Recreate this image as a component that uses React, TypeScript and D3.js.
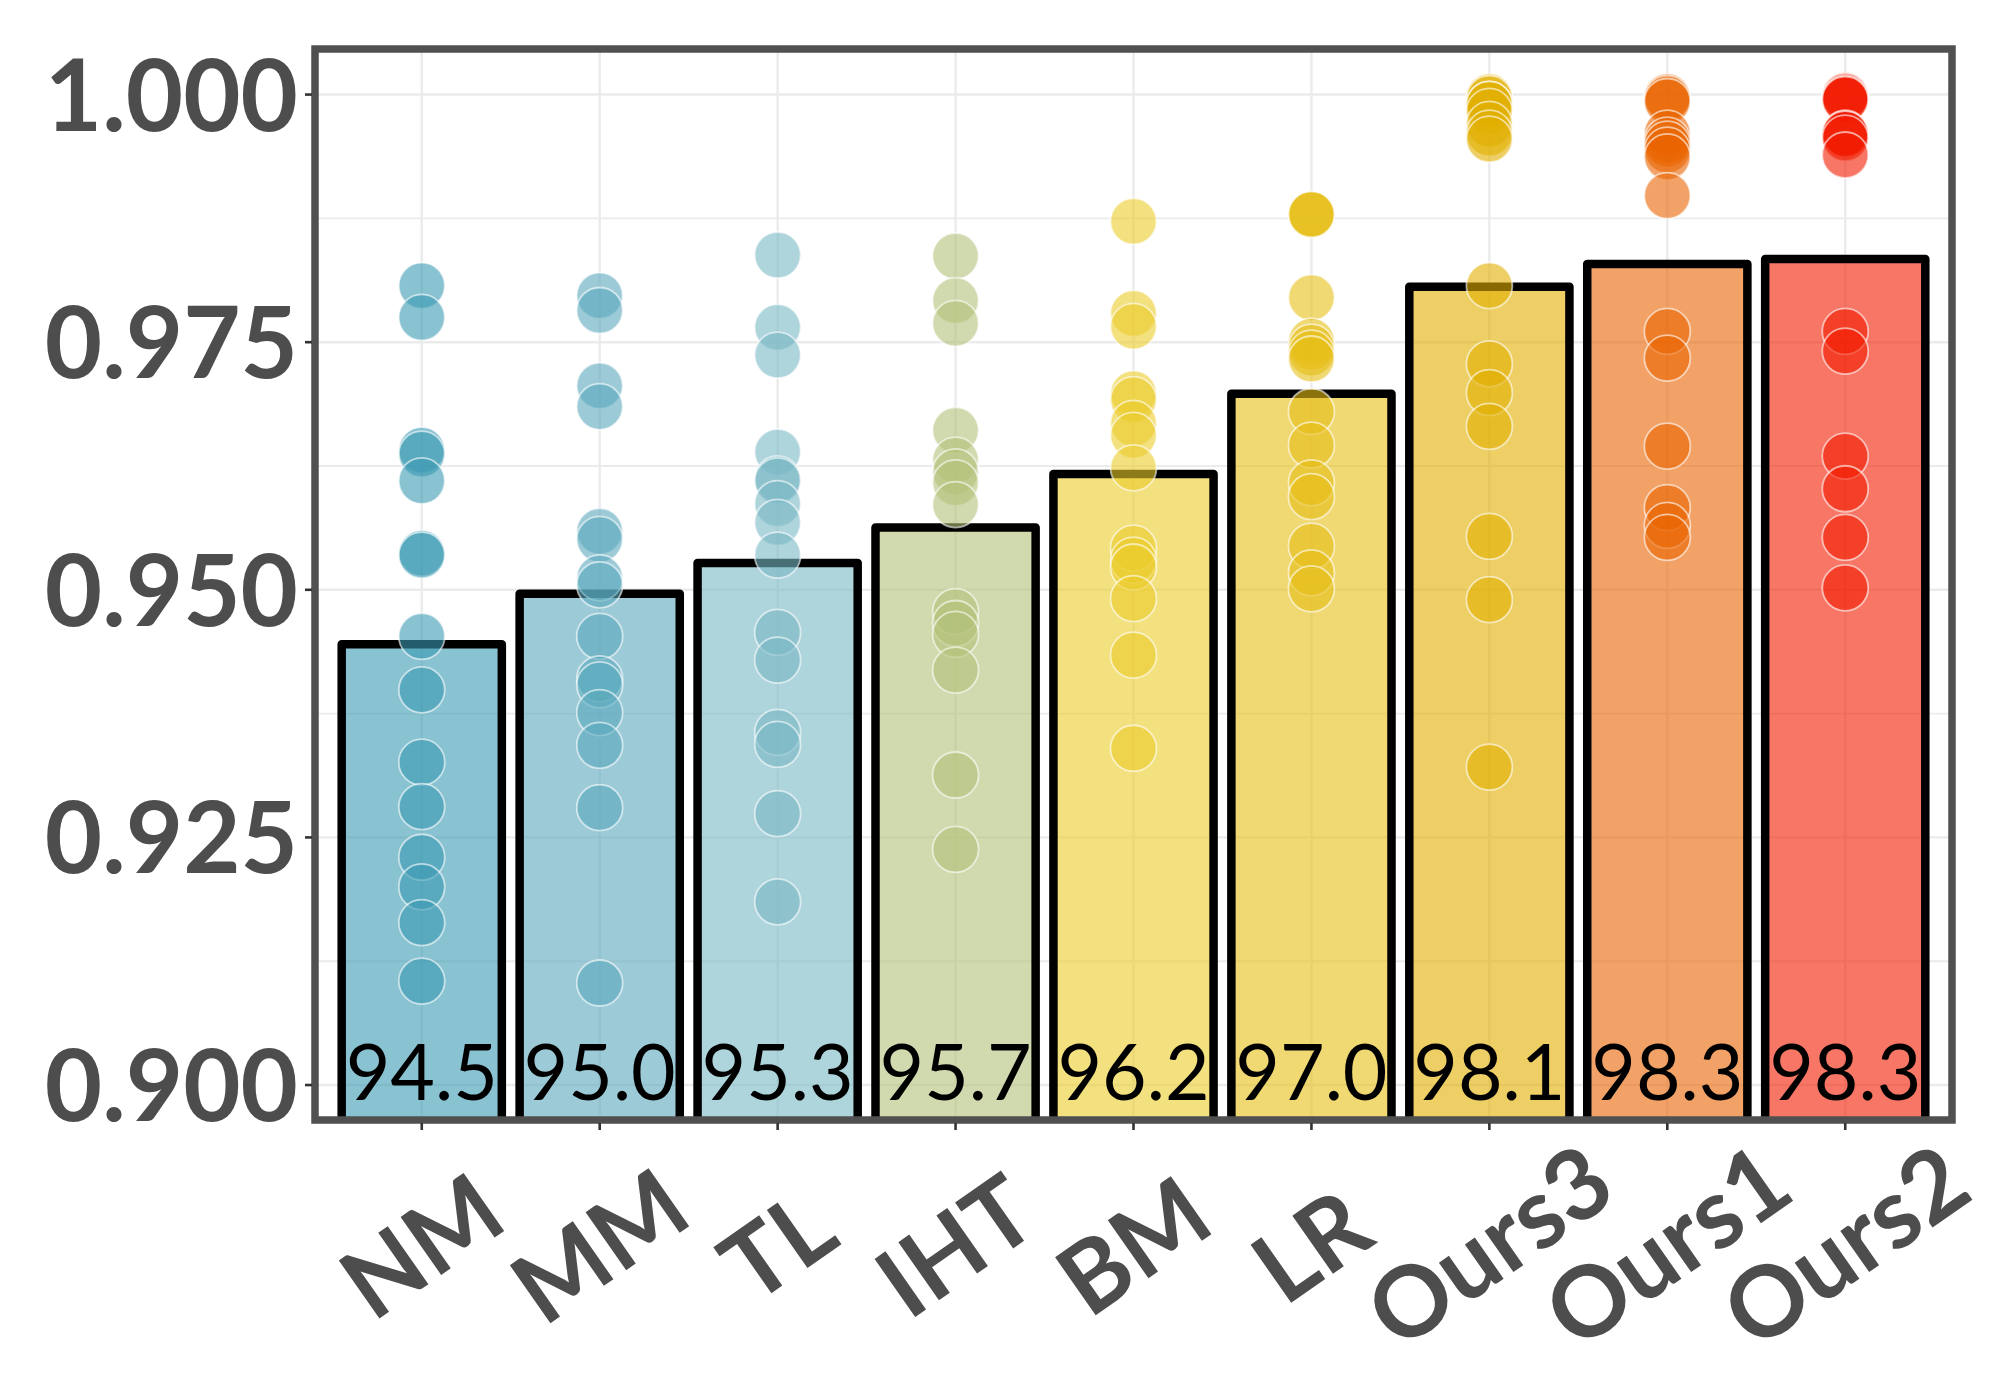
import { useRef, useEffect } from "react";
import * as d3 from "d3";

const categories = ["NM", "MM", "TL", "IHT", "BM", "LR", "Ours3", "Ours1", "Ours2"];

const bar_means = [0.9445, 0.9496, 0.9527, 0.9563, 0.9617, 0.9698, 0.9806, 0.9829, 0.9834];
const bar_labels = ["94.5", "95.0", "95.3", "95.7", "96.2", "97.0", "98.1", "98.3", "98.3"];

// Zissou1 palette stretched to 9 colours
const fill_colors = ["#3B9AB2", "#5AA8BC", "#78B7C5", "#B2C178", "#EBCC2A", "#E6BE15", "#E1AF00", "#EA6400", "#F21A00"];

const nm_points = [0.9807, 0.9775, 0.9641, 0.9637, 0.9610, 0.9537, 0.9535, 0.9453, 0.9399, 0.9326, 0.9281, 0.9230, 0.9200, 0.9164, 0.9105];
const mm_points = [0.9797, 0.9782, 0.9706, 0.9685, 0.9559, 0.9551, 0.9512, 0.9505, 0.9453, 0.9410, 0.9404, 0.9376, 0.9343, 0.9280, 0.9103];
const tl_points = [0.9838, 0.9765, 0.9737, 0.9639, 0.9612, 0.9610, 0.9587, 0.9568, 0.9535, 0.9457, 0.9429, 0.9356, 0.9344, 0.9274, 0.9185];
const iht_points = [0.9837, 0.9792, 0.9769, 0.9661, 0.9631, 0.9619, 0.9608, 0.9586, 0.9478, 0.9466, 0.9455, 0.9419, 0.9313, 0.9238];
const bm_points = [0.9872, 0.9779, 0.9766, 0.9698, 0.9692, 0.9668, 0.9656, 0.9623, 0.9542, 0.9530, 0.9523, 0.9491, 0.9434, 0.9340];
const lr_points = [0.9879, 0.9879, 0.9879, 0.9795, 0.9751, 0.9745, 0.9739, 0.9733, 0.9680, 0.9646, 0.9608, 0.9594, 0.9544, 0.9517, 0.9501];
const ours3_points = [0.9998, 0.9996, 0.9990, 0.9990, 0.9983, 0.9970, 0.9961, 0.9955, 0.9807, 0.9728, 0.9699, 0.9665, 0.9554, 0.9490, 0.9321];
const ours1_points = [0.9998, 0.9996, 0.9993, 0.9961, 0.9954, 0.9950, 0.9944, 0.9937, 0.9898, 0.9761, 0.9734, 0.9645, 0.9583, 0.9565, 0.9553];
const ours2_points = [0.9999, 0.9998, 0.9996, 0.9995, 0.9960, 0.9961, 0.9960, 0.9956, 0.9939, 0.9761, 0.9741, 0.9635, 0.9602, 0.9553, 0.9502];

const points_by_category = [nm_points, mm_points, tl_points, iht_points, bm_points, lr_points, ours3_points, ours1_points, ours2_points];

const y_ticks = [0.900, 0.925, 0.950, 0.975, 1.000];
const y_minor = [0.9125, 0.9375, 0.9625, 0.9875];

export default function App() {
    const ref = useRef(null);

    const width = 2000;
    const height = 1400;

    useEffect(() => {
        const destroy = () => {
            d3.select(ref.current).selectAll("*").remove();
        };

        const left = 315, right = 1952, top = 49, bottom = 1120;
        const font = "Lato, 'Open Sans', sans-serif";
        const axis_grey = "#4d4d4d";

        const x = d3.scalePoint<string>()
            .domain(categories)
            .range([left, right])
            .padding(0.6);

        const y = d3.scaleLinear()
            .domain([0.89647, 1.0046])
            .range([bottom, top]);

        const bar_width = x.step() * 0.9;

        const svg = d3.select(ref.current)
            .append("svg")
                .attr("width", width)
                .attr("height", height)
                .style("position", "absolute")
                .style("left", "0px")
                .style("top", "0px")
                .style("background", "white");

        svg.append("defs").append("clipPath")
            .attr("id", "panel-clip")
            .append("rect")
                .attr("x", left)
                .attr("y", top)
                .attr("width", right - left)
                .attr("height", bottom - top);

        // grid
        const grid = svg.append("g");
        grid.selectAll("line.minor")
            .data(y_minor)
            .join("line")
                .attr("x1", left).attr("x2", right)
                .attr("y1", d => y(d)).attr("y2", d => y(d))
                .attr("stroke", "#ebebeb")
                .attr("stroke-width", 1.8);
        grid.selectAll("line.major")
            .data(y_ticks)
            .join("line")
                .attr("x1", left).attr("x2", right)
                .attr("y1", d => y(d)).attr("y2", d => y(d))
                .attr("stroke", "#ebebeb")
                .attr("stroke-width", 2.4);
        grid.selectAll("line.vert")
            .data(categories)
            .join("line")
                .attr("x1", d => x(d)!).attr("x2", d => x(d)!)
                .attr("y1", top).attr("y2", bottom)
                .attr("stroke", "#ebebeb")
                .attr("stroke-width", 2.4);

        const panel = svg.append("g").attr("clip-path", "url(#panel-clip)");

        // bars
        panel.selectAll("rect.bar")
            .data(categories)
            .join("rect")
                .attr("x", d => x(d)! - bar_width / 2)
                .attr("y", (d, i) => y(bar_means[i]))
                .attr("width", bar_width)
                .attr("height", (d, i) => bottom + 30 - y(bar_means[i]))
                .attr("fill", (d, i) => fill_colors[i])
                .attr("fill-opacity", 0.6)
                .attr("stroke", "black")
                .attr("stroke-width", 8.5)
                .attr("stroke-linejoin", "round");

        // points
        categories.forEach((c, i) => {
            panel.append("g")
                .selectAll("circle")
                .data(points_by_category[i])
                .join("circle")
                    .attr("cx", x(c)!)
                    .attr("cy", d => y(d))
                    .attr("r", 23)
                    .attr("fill", fill_colors[i])
                    .attr("fill-opacity", 0.6)
                    .attr("stroke", "white")
                    .attr("stroke-opacity", 0.6)
                    .attr("stroke-width", 1.8);
        });

        // value labels
        svg.append("g")
            .selectAll("text")
            .data(categories)
            .join("text")
                .attr("x", d => x(d)!)
                .attr("y", 1100)
                .attr("text-anchor", "middle")
                .attr("font-family", font)
                .attr("font-size", 77)
                .attr("fill", "black")
                .text((d, i) => bar_labels[i]);

        // frame
        svg.append("rect")
            .attr("x", left)
            .attr("y", top)
            .attr("width", right - left)
            .attr("height", bottom - top)
            .attr("fill", "none")
            .attr("stroke", "#505050")
            .attr("stroke-width", 7.5);

        // y axis
        const y_axis = svg.append("g");
        y_axis.selectAll("line")
            .data(y_ticks)
            .join("line")
                .attr("x1", left - 10).attr("x2", left - 3)
                .attr("y1", d => y(d)).attr("y2", d => y(d))
                .attr("stroke", "#333333")
                .attr("stroke-width", 2.6);
        y_axis.selectAll("text")
            .data(y_ticks)
            .join("text")
                .attr("x", 298)
                .attr("y", d => y(d) + 36)
                .attr("text-anchor", "end")
                .attr("font-family", font)
                .attr("font-weight", "bold")
                .attr("font-size", 99)
                .attr("fill", axis_grey)
                .text(d => d3.format(".3f")(d));

        // x axis
        const x_axis = svg.append("g");
        x_axis.selectAll("line")
            .data(categories)
            .join("line")
                .attr("x1", d => x(d)!).attr("x2", d => x(d)!)
                .attr("y1", bottom + 3).attr("y2", bottom + 10)
                .attr("stroke", "#333333")
                .attr("stroke-width", 2.6);
        x_axis.selectAll("g")
            .data(categories)
            .join("g")
                .attr("transform", d => `translate(${x(d)},1246) rotate(-35)`)
                .append("text")
                    .attr("y", 35)
                    .attr("text-anchor", "middle")
                    .attr("font-family", font)
                    .attr("font-weight", "bold")
                    .attr("font-size", 98)
                    .attr("fill", axis_grey)
                    .text(d => d);

        return destroy;
    }, [ref]);

    return (
        <div ref={ref} />
    )
}
